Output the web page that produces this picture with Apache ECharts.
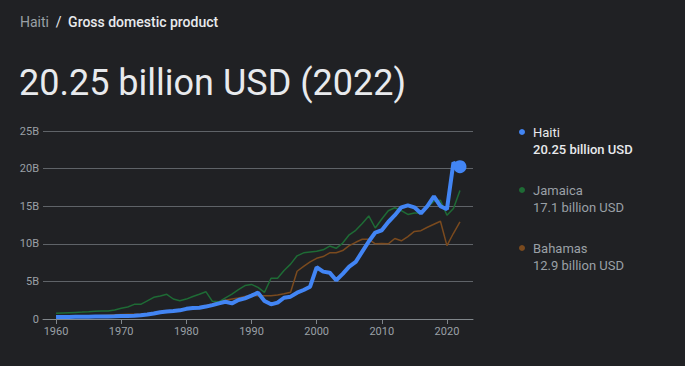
<!DOCTYPE html>
<html>
<head>
<meta charset="utf-8">
<script src="https://cdn.jsdelivr.net/npm/echarts@6/dist/echarts.min.js"></script>
<style>
html,body{margin:0;padding:0;background:#202124;}
#c{width:685px;height:366px;}
</style>
</head>
<body>
<div id="c"></div>
<script>
const years = [];
for (let y = 1960; y <= 2022; y++) years.push(y);

const haiti = [
  0.27,0.28,0.28,0.29,0.30,0.31,0.32,0.33,0.34,0.36,
  0.39,0.41,0.42,0.50,0.60,0.73,0.90,1.00,1.05,1.15,
  1.35,1.45,1.50,1.65,1.85,2.08,2.30,2.08,2.52,2.75,
  3.10,3.50,2.40,1.95,2.17,2.83,2.97,3.50,3.86,4.30,
  6.88,6.30,6.16,5.15,6.00,6.96,7.60,8.95,10.30,11.50,
  11.80,12.90,13.80,14.85,15.10,14.85,14.05,15.00,16.30,15.00,
  14.60,20.80,20.25
];
const jamaica = [
  0.76,0.80,0.84,0.88,0.92,0.97,1.03,1.08,1.06,1.20,
  1.42,1.60,1.95,1.95,2.40,2.88,3.05,3.28,2.66,2.44,
  2.65,3.00,3.30,3.63,2.35,2.28,2.80,3.30,3.90,4.45,
  4.60,4.20,3.55,5.42,5.42,6.45,7.30,8.40,8.80,8.90,
  9.00,9.20,9.70,9.40,10.10,11.20,11.80,12.70,13.70,12.10,
  13.30,14.40,14.80,14.40,13.90,14.10,14.10,14.85,15.65,15.80,
  13.80,14.70,17.10
];
const bahamas = [
  0.20,0.22,0.25,0.28,0.32,0.36,0.40,0.45,0.50,0.55,
  0.60,0.62,0.63,0.66,0.72,0.80,0.88,1.00,1.10,1.22,
  1.40,1.50,1.62,1.80,2.00,2.30,2.50,2.65,2.80,3.00,
  3.15,3.10,3.10,3.10,3.20,3.35,3.55,6.35,7.00,7.60,
  8.07,8.30,8.80,8.80,9.10,9.75,10.20,10.60,10.60,10.00,
  10.05,10.00,10.70,10.40,10.95,11.65,11.75,12.20,12.60,13.00,
  9.75,11.40,12.90
];
const yTicks = [0, 5, 10, 15, 20, 25];
const xTicks = [1960, 1970, 1980, 1990, 2000, 2010, 2020];

const names = ['Haiti', 'Jamaica', 'Bahamas'];
const colors = ['#4285f4', '#1e6b35', '#7a4a1e'];
const valueLabels = ['20.25 billion USD', '17.1 billion USD', '12.9 billion USD'];
const seriesData = [haiti, jamaica, bahamas];

function pairs(arr) { return years.map((y, i) => [y, arr[i]]); }

const chart = echarts.init(document.getElementById('c'), null, { renderer: 'svg' });

const legendGraphics = [];
const legendY = [132, 190, 248];
names.forEach((n, i) => {
  legendGraphics.push({
    type: 'circle', shape: { cx: 522, cy: legendY[i], r: 3 },
    style: { fill: colors[i] }
  });
  legendGraphics.push({
    type: 'text', x: 533, y: legendY[i],
    style: {
      text: n, fill: i === 0 ? '#e8eaed' : '#9aa0a6',
      font: '13px Roboto', textVerticalAlign: 'middle'
    }
  });
  legendGraphics.push({
    type: 'text', x: 533, y: legendY[i] + 17,
    style: {
      text: valueLabels[i], fill: i === 0 ? '#e8eaed' : '#9aa0a6',
      font: (i === 0 ? '500 ' : '') + '13px Roboto', textVerticalAlign: 'middle'
    }
  });
});

chart.setOption({
  backgroundColor: '#202124',
  animation: false,
  textStyle: { fontFamily: 'Roboto' },
  graphic: [
    {
      type: 'text', x: 20, y: 22,
      style: {
        text: '{a|Haiti}  {b|/}  {c|Gross domestic product}',
        textVerticalAlign: 'middle',
        rich: {
          a: { fill: '#9aa0a6', fontSize: 14, fontFamily: 'Roboto' },
          b: { fill: '#e8eaed', fontSize: 14, fontFamily: 'Roboto' },
          c: { fill: '#e8eaed', fontSize: 14, fontFamily: 'Roboto', fontWeight: 500 }
        }
      }
    },
    {
      type: 'text', x: 19, y: 83,
      style: {
        text: '20.25 billion USD (2022)', fill: '#e8eaed',
        font: '36px Roboto', textVerticalAlign: 'middle'
      }
    }
  ].concat(legendGraphics),
  grid: { left: 43, right: 212, top: 131, bottom: 47, containLabel: false },
  xAxis: {
    type: 'value', min: 1958, max: 2024,
    axisLine: { show: true, lineStyle: { color: '#80868b', width: 1 } },
    axisTick: { show: true, customValues: xTicks, length: 5, lineStyle: { color: '#80868b' } },
    axisLabel: { customValues: xTicks, color: '#9aa0a6', fontSize: 11, margin: 7,
      formatter: v => String(v) },
    splitLine: { show: false }
  },
  yAxis: {
    type: 'value', min: 0, max: 25, interval: 5,
    axisLine: { show: false }, axisTick: { show: false },
    axisLabel: { color: '#9aa0a6', fontSize: 11, margin: 4,
      formatter: v => v === 0 ? '0' : v + 'B' },
    splitLine: { show: true, lineStyle: { color: '#5f6368', width: 1 } }
  },
  series: [
    {
      name: 'Bahamas', type: 'line', data: pairs(bahamas), showSymbol: false,
      lineStyle: { color: colors[2], width: 1.5 }, itemStyle: { color: colors[2] }, z: 2
    },
    {
      name: 'Jamaica', type: 'line', data: pairs(jamaica), showSymbol: false,
      lineStyle: { color: colors[1], width: 1.5 }, itemStyle: { color: colors[1] }, z: 3
    },
    {
      name: 'Haiti', type: 'line', data: pairs(haiti),
      symbol: 'circle', symbolSize: (val, p) => p.dataIndex === haiti.length - 1 ? 13 : 0,
      showAllSymbol: true,
      lineStyle: { color: colors[0], width: 4 }, itemStyle: { color: colors[0] }, z: 4
    }
  ]
});
</script>
</body>
</html>
